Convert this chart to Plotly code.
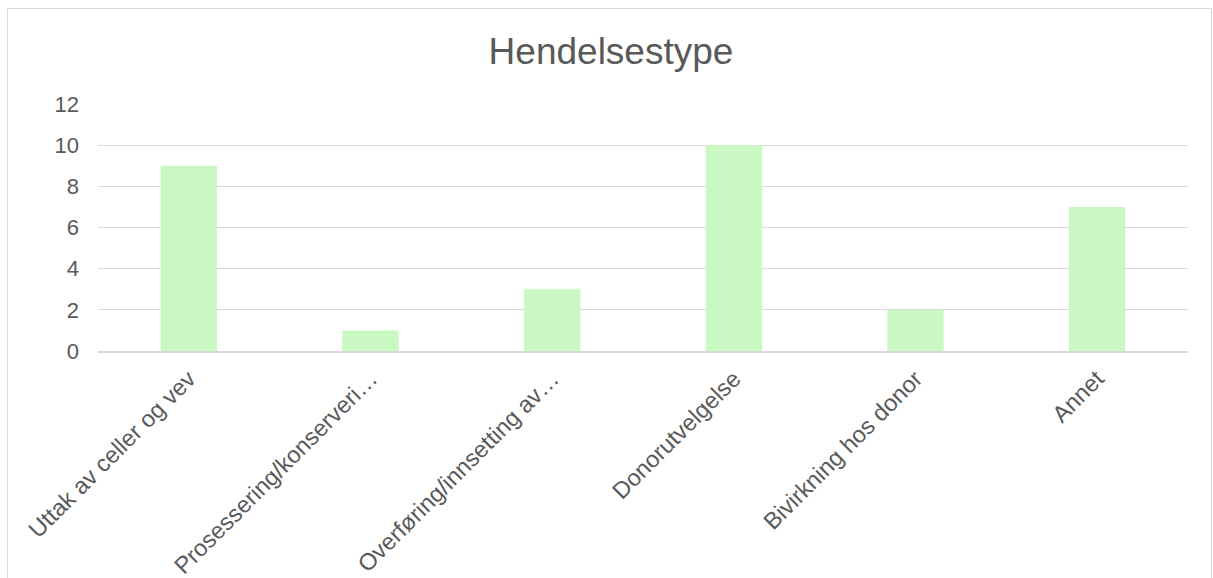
import plotly.graph_objects as go

categories = [
    "Uttak av celler og vev",
    "Prosessering/konserveri…",
    "Overføring/innsetting av…",
    "Donorutvelgelse",
    "Bivirkning hos donor",
    "Annet",
]
values = [9, 1, 3, 10, 2, 7]
y_ticks = [0, 2, 4, 6, 8, 10, 12]

W, H = 1213, 578
L, R, T, B = 98, 25, 104, 227
pw, ph = W - L - R, H - T - B

fig = go.Figure(
    go.Bar(
        x=categories,
        y=values,
        marker=dict(color="#CAF8C2", line=dict(width=0)),
        hoverinfo="x+y",
    )
)

def px_x(px):
    return (px - L) / pw

def px_y(py):
    return (H - B - py) / ph

fig.update_layout(
    width=W,
    height=H,
    margin=dict(l=L, r=R, t=T, b=B, autoexpand=False),
    paper_bgcolor="white",
    plot_bgcolor="white",
    bargap=0.69,
    showlegend=False,
    font=dict(family="Liberation Sans, Arial, sans-serif", color="#595959", size=22),
    title=dict(
        text="Hendelsestype",
        font=dict(size=37, color="#595959"),
        x=611 / W,
        xref="container",
        xanchor="center",
        y=1 - 51 / H,
        yref="container",
        yanchor="middle",
    ),
    xaxis=dict(
        tickangle=-45,
        showgrid=False,
        showline=True,
        linecolor="#D9D9D9",
        linewidth=1.5,
        ticks="",
        ticklabelstandoff=3,
        tickfont=dict(size=23.5, color="#595959"),
        fixedrange=True,
    ),
    yaxis=dict(
        range=[0, 12],
        tickvals=y_ticks,
        showgrid=True,
        gridcolor="#D9D9D9",
        gridwidth=1,
        zeroline=False,
        showline=False,
        ticks="",
        ticklabelstandoff=18,
        tickfont=dict(size=22, color="#595959"),
        fixedrange=True,
    ),
    shapes=[
        dict(
            type="rect",
            xref="paper",
            yref="paper",
            x0=px_x(7.5),
            x1=px_x(1211.5),
            y0=px_y(590),
            y1=px_y(8.5),
            line=dict(color="#D9D9D9", width=1),
            fillcolor="rgba(0,0,0,0)",
            layer="below",
        )
    ],
)

fig.write_html("out.html")
